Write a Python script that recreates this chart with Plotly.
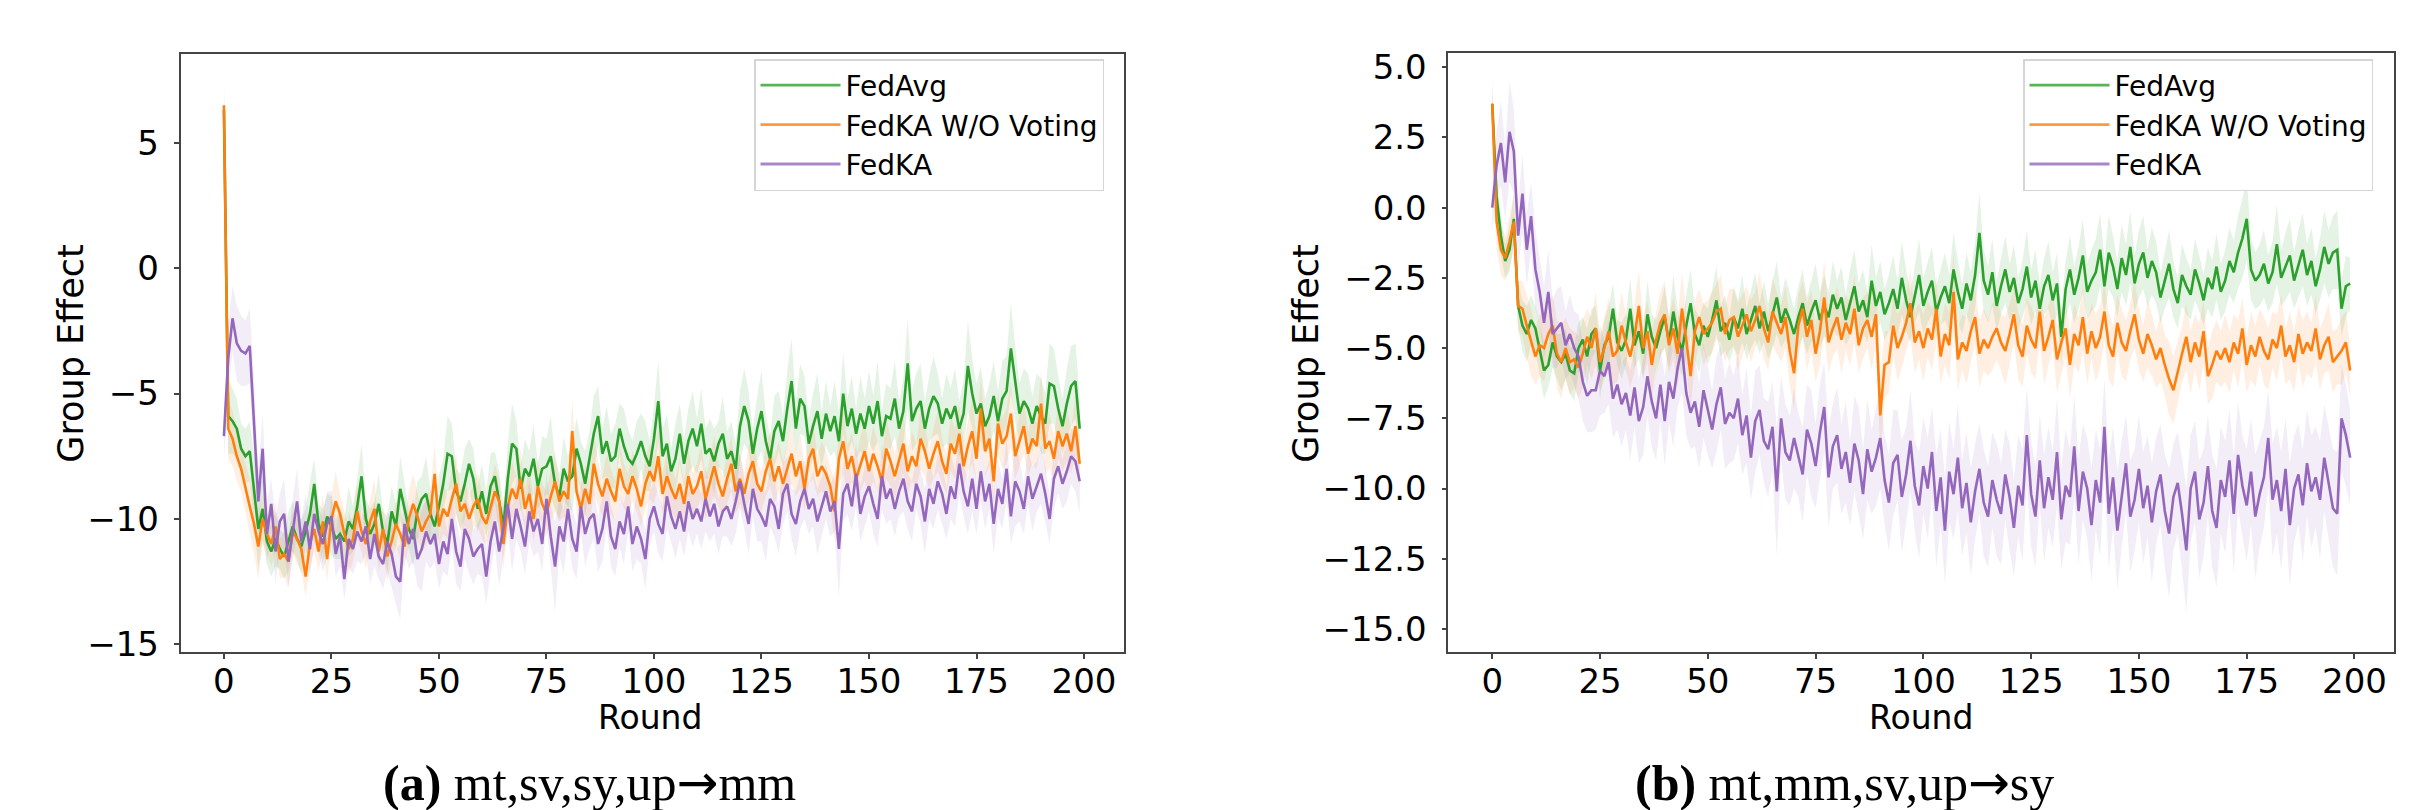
import plotly.graph_objects as go

rounds = list(range(200))
series_names = ["FedAvg", "FedKA W/O Voting", "FedKA"]
series_colors = ["#2ca02c", "#ff7f0e", "#9467bd"]
band_colors = ["rgba(44,160,44,0.12)", "rgba(255,127,14,0.12)", "rgba(148,103,189,0.12)"]
legend_colors = ["rgba(44,160,44,0.8)", "rgba(255,127,14,0.8)", "rgba(148,103,189,0.8)"]

# ---------------- panel (a): mt,sv,sy,up -> mm ----------------
a_fedavg = [
    6.3, -5.9, -6.1, -6.4, -7.2, -7.5, -7.3, -8.9, -10.4, -9.6,
    -10.9, -11.3, -10.8, -11.2, -11.5, -10.9, -10.3, -10.8, -11.1, -10.5,
    -9.8, -8.6, -10.2, -10.7, -9.9, -10.3, -10.8, -10.6, -10.9, -10.1,
    -10.4, -9.5, -8.3, -10.0, -10.6, -10.2, -9.4, -10.5, -11.0, -9.7,
    -10.3, -8.8, -9.6, -10.4, -10.8, -9.7, -9.2, -9.0, -9.8, -10.3,
    -9.5, -8.6, -7.4, -7.5, -8.9, -9.3, -8.6, -7.8, -8.4, -9.6,
    -8.9, -9.8, -8.7, -8.3, -9.3, -10.3, -8.4, -7.0, -7.2, -8.8,
    -8.0, -8.3, -7.6, -8.7, -8.0, -7.9, -7.5, -8.6, -9.1, -8.0,
    -8.5, -8.3, -7.2, -7.8, -8.6, -7.6, -6.6, -5.9, -7.4, -6.9,
    -7.7, -7.5, -6.4, -7.1, -7.6, -7.8, -7.4, -6.9, -7.5, -7.9,
    -6.8, -5.3, -7.5, -7.0, -8.1, -7.6, -6.6, -7.8, -6.9, -6.4,
    -7.1, -6.2, -7.4, -7.2, -7.7, -7.0, -6.6, -7.6, -7.3, -8.0,
    -6.3, -5.5, -6.1, -7.4, -6.4, -5.7, -6.9, -7.6, -6.5, -6.1,
    -6.9, -5.6, -4.5, -6.4, -5.2, -5.5, -7.0, -6.3, -5.7, -6.8,
    -5.8, -6.5, -5.9, -6.9, -5.0, -6.3, -5.6, -6.6, -5.8, -6.4,
    -5.5, -6.2, -5.3, -6.7, -5.9, -6.0, -5.2, -6.4, -5.7, -3.8,
    -6.1, -5.6, -5.3, -6.4, -5.6, -5.1, -5.4, -6.2, -5.6, -6.0,
    -5.5, -6.4, -5.8, -3.9, -5.0, -5.8, -5.4, -6.3, -5.9, -5.1,
    -6.1, -5.2, -4.9, -3.2, -4.6, -5.8, -5.3, -5.6, -6.2, -5.5,
    -5.9, -6.2, -4.6, -4.7, -5.6, -6.3, -5.4, -4.7, -4.5, -6.4,
]
a_fedavg_sd = [
    1.2, 1.5, 1.3, 1.2, 1.0, 1.1, 1.2, 1.4, 1.6, 1.2,
    0.9, 1.0, 1.1, 0.8, 0.9, 1.2, 1.0, 0.8, 1.1, 0.9,
    1.3, 1.0, 0.8, 1.1, 0.9, 1.2, 0.8, 1.0, 0.9, 1.4,
    0.9, 1.1, 1.3, 0.8, 1.0, 0.9, 1.2, 0.8, 1.1, 1.0,
    0.9, 1.3, 1.0, 0.8, 1.1, 1.2, 0.9, 1.5, 1.0, 0.8,
    1.2, 1.0, 1.5, 1.3, 0.9, 1.1, 1.4, 1.0, 1.2, 0.9,
    1.1, 0.9, 1.3, 1.0, 1.2, 0.8, 1.4, 1.6, 1.1, 0.9,
    1.2, 1.0, 1.4, 0.9, 1.3, 1.1, 1.6, 1.0, 0.9, 1.3,
    1.0, 1.4, 1.2, 0.9, 1.3, 1.1, 1.5, 1.2, 1.0, 1.4,
    1.1, 1.3, 1.0, 1.5, 1.2, 0.9, 1.3, 1.1, 1.4, 1.0,
    1.3, 1.6, 1.1, 1.2, 0.9, 1.4, 1.2, 1.0, 1.3, 1.5,
    1.1, 1.4, 1.0, 1.2, 1.3, 0.9, 1.5, 1.1, 1.2, 1.0,
    1.4, 1.5, 1.2, 1.0, 1.3, 1.6, 1.1, 0.9, 1.4, 1.2,
    1.0, 1.5, 1.7, 1.1, 1.4, 1.2, 1.0, 1.3, 1.5, 1.1,
    1.3, 1.0, 1.4, 1.2, 1.6, 1.1, 1.3, 1.0, 1.5, 1.2,
    1.4, 1.1, 1.6, 1.0, 1.3, 1.2, 1.5, 1.1, 1.3, 1.8,
    1.2, 1.4, 1.5, 1.1, 1.3, 1.6, 1.2, 1.0, 1.4, 1.2,
    1.5, 1.1, 1.3, 1.8, 1.4, 1.2, 1.5, 1.1, 1.3, 1.4,
    1.2, 1.5, 1.4, 1.8, 1.5, 1.2, 1.3, 1.4, 1.1, 1.3,
    1.5, 1.2, 1.6, 1.5, 1.3, 1.1, 1.4, 1.6, 1.5, 1.3,
]
a_wov = [
    6.5, -6.4, -6.8, -7.5, -8.0, -8.8, -9.5, -10.2, -11.1, -10.0,
    -10.6, -11.0, -10.3, -11.6, -11.4, -11.7, -10.5, -10.8, -11.2, -12.3,
    -11.0, -10.4, -11.3, -10.1, -11.6, -10.0, -9.3, -9.8, -10.6, -11.2,
    -10.8, -9.7, -10.5, -11.0, -10.1, -9.6, -11.3, -10.4, -11.5, -10.9,
    -10.2, -10.6, -11.1, -10.0, -9.4, -9.9, -10.5, -10.1, -9.8, -8.2,
    -10.3, -9.6, -9.9, -9.2, -8.6, -9.7, -9.4, -10.0, -9.5, -9.2,
    -9.9, -10.2, -9.6, -8.9, -9.3, -11.0, -9.5, -8.8, -9.2, -8.4,
    -9.6, -9.0, -10.0, -8.7, -9.4, -9.8, -9.1, -8.5, -9.3, -8.9,
    -9.2, -6.5, -8.9, -9.6, -8.8, -9.4, -7.8, -8.6, -9.1, -8.4,
    -8.9, -9.3, -8.0, -8.7, -9.0, -8.3, -8.8, -9.5, -8.6, -8.1,
    -8.5, -7.5, -9.0, -8.3, -8.8, -9.2, -8.6, -9.4, -8.3, -9.0,
    -8.7, -8.1, -9.2, -8.5, -7.9, -8.6, -9.1, -8.4, -7.8, -8.9,
    -8.4, -9.0, -8.2, -7.7, -8.6, -8.9, -8.1, -7.6, -8.5, -7.9,
    -8.6, -8.0, -7.4, -8.3, -7.7, -8.8, -7.6, -7.2, -8.3, -7.9,
    -8.2, -8.7, -9.7, -7.6, -6.9, -8.0, -7.5, -8.4, -7.8, -7.3,
    -8.1, -7.4, -7.9, -8.5, -7.2, -7.7, -8.3, -7.6, -7.0, -8.1,
    -7.5, -7.9, -6.8, -7.3, -8.0, -7.4, -6.9, -7.7, -8.2, -7.0,
    -7.4, -6.6, -7.9, -7.1, -6.5, -7.6, -5.6, -7.3, -6.8, -8.5,
    -6.2, -7.0, -6.7, -5.8, -7.5, -6.9, -6.3, -7.4, -6.8, -7.1,
    -5.4, -7.2, -6.9, -7.6, -6.5, -7.1, -6.6, -7.3, -6.3, -7.8,
]
a_wov_sd = [
    1.0, 1.2, 1.1, 1.0, 0.9, 1.0, 1.1, 1.2, 1.3, 1.0,
    0.8, 0.9, 1.0, 0.8, 0.9, 1.1, 0.8, 1.0, 0.9, 0.8,
    1.0, 0.9, 0.8, 1.1, 0.9, 1.0, 1.2, 0.8, 0.9, 1.0,
    0.9, 1.1, 0.8, 1.0, 0.9, 1.2, 0.8, 0.9, 1.0, 0.8,
    0.9, 1.0, 0.8, 1.1, 1.2, 0.9, 0.8, 1.0, 0.9, 1.2,
    0.8, 1.0, 0.9, 1.1, 1.2, 0.8, 0.9, 1.0, 0.8, 1.1,
    0.9, 0.8, 1.0, 1.1, 0.9, 1.0, 0.8, 1.1, 0.9, 1.2,
    0.8, 1.0, 0.9, 1.1, 0.8, 0.9, 1.0, 1.2, 0.8, 1.0,
    0.9, 1.3, 0.8, 0.9, 1.0, 0.8, 1.2, 0.9, 0.8, 1.0,
    0.9, 0.8, 1.1, 0.9, 0.8, 1.0, 0.9, 0.8, 1.0, 1.1,
    0.9, 1.2, 0.8, 1.0, 0.9, 0.8, 1.0, 0.9, 1.1, 0.8,
    0.9, 1.1, 0.8, 1.0, 1.2, 0.9, 0.8, 1.0, 1.1, 0.9,
    1.0, 0.8, 1.1, 1.2, 0.9, 0.8, 1.0, 1.1, 0.9, 1.0,
    0.9, 1.0, 1.2, 0.8, 1.1, 0.9, 1.0, 1.2, 0.8, 1.0,
    0.9, 0.8, 1.2, 1.0, 1.3, 0.9, 1.0, 0.8, 1.1, 1.2,
    0.9, 1.1, 1.0, 0.8, 1.2, 1.0, 0.9, 1.0, 1.2, 0.9,
    1.0, 0.9, 1.2, 1.0, 0.8, 1.0, 1.2, 0.9, 0.8, 1.1,
    1.0, 1.2, 0.9, 1.0, 1.3, 0.9, 1.3, 1.0, 1.1, 0.9,
    1.2, 1.0, 1.1, 1.3, 0.9, 1.0, 1.1, 0.9, 1.0, 0.9,
    1.3, 1.0, 1.1, 0.9, 1.1, 1.0, 1.1, 0.9, 1.2, 1.0,
]
a_fedka = [
    -6.7, -3.6, -2.0, -3.0, -3.3, -3.4, -3.1, -6.0, -9.3, -7.2,
    -10.6, -9.4, -11.3, -10.1, -9.8, -11.7, -10.4, -9.3, -10.9, -10.1,
    -11.2, -9.8, -10.5, -11.0, -10.2, -9.9, -11.4, -10.7, -12.4, -10.8,
    -11.2, -10.5, -10.9, -10.3, -11.6, -10.6, -11.5, -11.8, -10.9, -11.4,
    -12.3, -12.5, -10.2, -11.0, -10.4, -11.6, -11.2, -10.5, -11.0, -10.6,
    -11.8, -10.9, -11.4, -10.0, -11.3, -11.9, -10.4, -10.8, -11.5, -11.2,
    -11.0, -12.3, -10.9, -10.1, -11.3, -10.4, -9.4, -10.8, -9.6, -10.3,
    -11.1, -9.7, -10.5, -10.0, -11.0, -9.2, -10.7, -11.9, -10.3, -10.9,
    -9.6, -10.8, -11.3, -9.5, -10.6, -10.0, -9.8, -11.0, -10.4, -9.3,
    -10.7, -11.2, -10.1, -10.6, -9.5, -11.0, -10.3, -10.8, -11.6, -10.0,
    -9.5, -10.2, -10.6, -9.1, -9.9, -10.4, -9.7, -10.5, -9.3, -10.0,
    -9.6, -10.1, -9.2, -9.9, -9.4, -10.3, -9.7, -9.5, -10.0, -9.3,
    -8.5, -9.4, -10.2, -8.8, -9.6, -9.9, -10.3, -9.2, -9.5, -10.4,
    -9.0, -8.6, -9.8, -10.2, -9.3, -8.8, -9.6, -9.2, -10.1, -9.5,
    -8.9, -9.7, -9.3, -11.2, -9.0, -8.6, -9.5, -8.2, -9.8, -9.1,
    -8.7, -9.4, -10.0, -8.3, -9.2, -8.8, -9.6, -8.9, -8.4, -9.3,
    -9.7, -8.6, -9.1, -10.1, -8.8, -9.4, -8.5, -9.0, -9.8, -8.7,
    -9.2, -7.8, -8.9, -9.5, -8.4, -9.6, -8.1, -9.3, -8.6, -10.2,
    -8.8, -9.4, -8.0, -9.9, -8.5, -8.9, -9.6, -8.3, -9.2, -8.7,
    -8.2, -9.0, -10.0, -8.4, -7.9, -8.6, -8.1, -7.5, -7.7, -8.5,
]
a_fedka_sd = [
    0.9, 1.4, 1.3, 1.5, 1.4, 1.3, 1.5, 1.6, 1.3, 1.4,
    1.2, 1.0, 1.3, 1.1, 1.4, 1.0, 1.2, 1.3, 0.9, 1.1,
    1.0, 1.2, 0.9, 1.1, 1.3, 1.0, 0.9, 1.2, 0.8, 1.1,
    1.0, 1.2, 0.9, 1.1, 1.0, 1.3, 0.9, 1.0, 1.2, 1.4,
    1.1, 1.5, 1.2, 1.0, 1.3, 1.1, 1.7, 1.2, 1.0, 1.1,
    1.0, 1.2, 0.9, 1.1, 1.3, 1.0, 1.2, 1.4, 1.1, 1.0,
    1.3, 1.1, 1.2, 1.0, 1.4, 1.1, 1.0, 1.3, 1.2, 1.0,
    1.1, 1.2, 1.0, 1.3, 1.1, 1.0, 1.2, 1.8, 1.1, 1.3,
    1.0, 1.2, 1.1, 1.0, 1.3, 1.2, 1.0, 1.1, 1.3, 1.0,
    1.2, 1.1, 1.0, 1.2, 1.0, 1.1, 1.3, 1.0, 1.2, 1.1,
    1.0, 1.2, 1.1, 1.3, 1.0, 1.2, 1.1, 1.0, 1.2, 1.1,
    1.0, 1.1, 1.3, 1.0, 1.2, 1.1, 1.0, 1.2, 1.1, 1.3,
    1.1, 1.0, 1.2, 1.1, 1.3, 1.0, 1.4, 1.1, 1.2, 1.0,
    1.2, 1.1, 1.0, 1.3, 1.1, 1.2, 1.0, 1.1, 1.3, 1.2,
    1.1, 1.0, 1.2, 1.9, 1.1, 1.2, 1.0, 1.3, 1.1, 1.2,
    1.0, 1.2, 1.1, 1.3, 1.0, 1.2, 1.1, 1.0, 1.3, 1.1,
    1.2, 1.0, 1.1, 1.3, 1.2, 1.0, 1.1, 1.2, 1.0, 1.3,
    1.1, 1.2, 1.0, 1.1, 1.3, 1.0, 1.2, 1.1, 1.0, 1.2,
    1.1, 1.0, 1.3, 1.1, 1.8, 1.2, 1.0, 1.1, 1.3, 1.0,
    1.2, 1.1, 1.0, 1.2, 1.1, 1.0, 1.2, 1.1, 1.2, 1.3,
]

# ---------------- panel (b): mt,mm,sv,up -> sy ----------------
b_fedavg = [
    3.7, 0.4, -1.0, -1.9, -1.5, -0.4, -3.5, -4.2, -4.5, -4.0,
    -4.3, -5.0, -5.8, -5.6, -4.8, -5.3, -5.5, -5.2, -5.8, -5.9,
    -5.0, -4.7, -5.3, -4.5, -4.3, -5.8, -4.9, -4.6, -3.6, -4.8,
    -5.1, -4.7, -3.6, -4.9, -4.4, -5.2, -3.8, -4.6, -5.0, -4.4,
    -3.9, -4.8, -3.7, -4.6, -5.1, -4.2, -3.4, -4.5, -4.9, -4.2,
    -4.6, -4.0, -3.3, -4.4, -4.1, -4.7, -3.9, -4.3, -3.6, -4.5,
    -4.0, -3.5, -4.3, -3.7, -4.4, -3.8, -3.2, -4.1, -3.6, -4.0,
    -4.5, -3.9, -3.4, -4.2, -3.7, -3.3, -4.0, -3.5, -3.9, -3.1,
    -3.6, -3.2, -4.0, -3.4, -2.8, -3.7, -3.3, -3.9, -2.6, -3.5,
    -3.0, -3.8, -3.4, -2.9, -3.6, -2.5, -3.3, -3.9, -3.1, -2.4,
    -3.5, -3.0, -2.6, -3.7, -3.2, -2.8, -3.4, -2.2, -3.0, -3.6,
    -2.7, -3.3, -2.4, -0.9, -2.6, -3.1, -2.3, -3.5, -2.8, -2.2,
    -3.0, -2.5, -3.4, -2.9, -2.1, -3.2, -2.6, -3.6, -2.8, -2.4,
    -3.3, -2.7, -4.6, -2.9, -2.2, -3.1, -2.5, -1.7, -3.0, -2.6,
    -2.3, -1.5, -2.8, -1.6, -2.1, -2.9, -1.8, -2.4, -1.4, -2.7,
    -2.0, -1.6, -2.5, -1.9, -2.3, -3.2, -2.6, -2.0, -2.9, -3.4,
    -2.4, -2.8, -3.1, -2.2, -2.7, -3.3, -2.5, -2.9, -2.1, -3.0,
    -2.6, -1.9, -2.3, -1.6, -1.1, -0.4, -2.2, -2.6, -2.4, -2.0,
    -2.7, -2.3, -1.3, -2.5, -2.1, -1.7, -2.6, -2.0, -1.5, -2.4,
    -1.9, -2.8, -2.2, -1.4, -2.0, -1.6, -1.5, -3.6, -2.8, -2.7,
]
b_fedavg_sd = [
    0.6, 0.8, 0.7, 0.6, 0.8, 0.9, 0.8, 0.9, 1.0, 0.9,
    0.8, 0.9, 1.0, 0.8, 0.9, 0.8, 1.0, 0.9, 0.8, 1.0,
    0.9, 0.8, 1.0, 0.9, 0.8, 1.0, 0.9, 1.1, 0.9, 0.8,
    1.0, 0.9, 1.1, 0.8, 1.0, 0.9, 1.2, 0.8, 1.0, 0.9,
    1.1, 0.9, 1.3, 1.0, 0.9, 1.1, 1.2, 0.9, 1.0, 0.8,
    1.0, 1.1, 1.2, 0.9, 1.0, 0.8, 1.1, 1.0, 1.2, 0.9,
    1.0, 1.2, 0.9, 1.1, 1.0, 1.2, 1.3, 0.9, 1.1, 1.0,
    0.9, 1.1, 1.2, 1.0, 1.1, 1.3, 1.0, 1.1, 0.9, 1.2,
    1.0, 1.1, 0.9, 1.2, 1.3, 1.0, 1.1, 0.9, 1.3, 1.0,
    1.1, 0.9, 1.0, 1.2, 1.0, 1.3, 1.1, 0.9, 1.0, 1.3,
    1.0, 1.1, 1.2, 0.9, 1.0, 1.2, 1.0, 1.3, 1.1, 0.9,
    1.1, 1.0, 1.2, 1.4, 1.1, 1.0, 1.2, 0.9, 1.0, 1.2,
    1.0, 1.2, 0.9, 1.0, 1.3, 1.0, 1.1, 0.9, 1.0, 1.2,
    1.0, 1.1, 1.0, 1.0, 1.2, 1.0, 1.1, 1.3, 1.0, 1.1,
    1.2, 1.3, 1.0, 1.3, 1.1, 1.0, 1.2, 1.1, 1.3, 1.0,
    1.2, 1.3, 1.0, 1.2, 1.1, 0.9, 1.0, 1.2, 1.0, 0.9,
    1.1, 1.0, 0.9, 1.1, 1.0, 0.9, 1.1, 1.0, 1.2, 1.0,
    1.1, 1.2, 1.1, 1.3, 1.4, 1.5, 1.1, 1.0, 1.1, 1.2,
    1.0, 1.1, 1.4, 1.0, 1.2, 1.3, 1.0, 1.2, 1.3, 1.1,
    1.2, 1.0, 1.1, 1.3, 1.2, 1.3, 1.4, 1.0, 1.1, 0.9,
]
b_wov = [
    3.7, -0.5, -1.5, -1.8, -1.2, -0.5, -3.5, -3.6, -4.2, -4.8,
    -5.3, -4.9, -5.0, -4.5, -4.2, -5.2, -5.5, -5.0, -5.5, -5.4,
    -5.7, -5.2, -4.6, -5.0, -4.3, -5.5, -5.0, -4.4, -5.3, -5.1,
    -4.2, -4.8, -5.3, -4.6, -3.5, -5.0, -4.4, -5.6, -4.7, -4.1,
    -3.8, -4.9, -4.3, -5.2, -3.6, -4.7, -6.0, -4.4, -3.9, -4.5,
    -4.3, -4.1, -3.7, -3.6, -4.5, -4.0, -3.9, -4.6, -4.2, -3.8,
    -4.4, -4.0, -3.5, -4.3, -4.8, -3.7, -4.1, -4.5, -3.9, -5.1,
    -5.9, -4.2, -3.6, -4.6, -4.0, -5.2, -4.4, -3.2, -4.8, -4.3,
    -3.9, -4.7, -4.1, -4.5, -3.6, -4.9, -4.3, -4.0, -4.6, -3.8,
    -7.4, -5.6, -5.5, -4.2, -5.0, -4.6, -4.1, -3.4, -4.8, -4.4,
    -5.0, -4.3, -4.7, -3.6, -5.3, -4.5, -4.9, -3.0, -5.4, -4.8,
    -5.1, -4.4, -3.9, -5.2, -4.7, -5.0, -4.6, -4.3, -4.8, -5.1,
    -4.5, -3.8, -4.9, -5.3, -4.2, -4.7, -5.0, -3.7, -5.1, -4.6,
    -4.0, -5.4, -4.8, -4.3, -5.6, -4.5, -4.9, -3.9, -5.2, -4.4,
    -5.0, -4.6, -3.7, -4.9, -5.3, -4.1, -4.8, -5.1, -4.4, -3.8,
    -4.7, -5.2, -4.5, -4.9, -5.4, -5.0, -5.6, -6.1, -6.5, -5.8,
    -5.2, -4.6, -5.5, -4.8, -5.3, -4.4, -6.0, -5.6, -5.1, -5.4,
    -5.0, -5.5, -4.8, -5.2, -4.3, -5.6, -4.9, -5.3, -4.6, -5.1,
    -5.4, -4.7, -5.0, -4.2, -5.3, -4.9, -5.5, -4.5, -5.2, -4.8,
    -5.1, -4.3, -5.4, -4.9, -4.6, -5.5, -5.3, -5.1, -4.8, -5.8,
]
b_wov_sd = [
    0.9, 1.0, 0.9, 0.8, 0.9, 1.0, 0.9, 1.0, 1.1, 1.2,
    1.0, 1.1, 1.2, 1.0, 1.1, 1.2, 1.3, 1.1, 1.2, 1.0,
    1.1, 1.2, 1.0, 1.1, 1.3, 1.0, 1.1, 1.2, 1.0, 1.1,
    1.2, 1.0, 1.1, 1.2, 1.3, 1.0, 1.1, 1.2, 1.0, 1.1,
    1.2, 1.0, 1.1, 1.2, 1.3, 1.0, 1.2, 1.1, 1.0, 1.1,
    1.0, 1.1, 1.0, 1.2, 1.0, 1.1, 1.0, 1.2, 1.1, 1.0,
    1.1, 1.0, 1.2, 1.1, 1.0, 1.2, 1.1, 1.0, 1.1, 1.2,
    1.3, 1.1, 1.0, 1.2, 1.1, 1.0, 1.2, 1.3, 1.1, 1.0,
    1.1, 1.2, 1.0, 1.1, 1.2, 1.0, 1.1, 1.0, 1.2, 1.1,
    1.4, 1.2, 1.1, 1.0, 1.2, 1.1, 1.0, 1.2, 1.1, 1.0,
    1.2, 1.0, 1.1, 1.2, 1.0, 1.1, 1.2, 1.4, 1.1, 1.0,
    1.2, 1.1, 1.0, 1.2, 1.1, 1.0, 1.2, 1.1, 1.0, 1.2,
    1.1, 1.0, 1.2, 1.1, 1.0, 1.2, 1.1, 1.0, 1.2, 1.1,
    1.0, 1.2, 1.1, 1.0, 1.2, 1.1, 1.0, 1.2, 1.1, 1.0,
    1.2, 1.1, 1.0, 1.2, 1.1, 1.0, 1.2, 1.1, 1.0, 1.2,
    1.1, 1.0, 1.2, 1.1, 1.0, 1.2, 1.1, 1.3, 1.2, 1.1,
    1.0, 1.2, 1.1, 1.0, 1.2, 1.1, 1.0, 1.2, 1.1, 1.0,
    1.2, 1.1, 1.0, 1.2, 1.1, 1.0, 1.2, 1.1, 1.0, 1.2,
    1.1, 1.0, 1.2, 1.1, 1.0, 1.2, 1.1, 1.0, 1.2, 1.1,
    1.0, 1.2, 1.1, 1.0, 1.2, 1.1, 1.0, 1.2, 1.1, 0.9,
]
b_fedka = [
    0.0, 1.5, 2.3, 0.9, 2.7, 2.0, -1.0, 0.5, -1.5, -0.3,
    -2.2, -3.0, -4.1, -3.0, -4.5, -4.3, -4.1, -4.9, -4.5, -5.0,
    -5.3, -6.2, -6.7, -6.5, -6.5, -5.8, -6.0, -5.5, -6.8, -6.3,
    -7.0, -6.6, -7.4, -6.4, -7.6, -7.1, -6.0, -6.9, -7.5, -6.3,
    -7.6, -6.2, -6.8, -5.7, -5.0, -6.6, -7.3, -6.9, -7.8, -6.5,
    -7.2, -7.9, -7.0, -6.4, -7.7, -7.3, -7.5, -6.8, -8.1, -7.4,
    -8.9, -7.6, -7.2, -8.3, -8.6, -7.8, -10.1, -7.5, -8.7, -9.0,
    -8.2, -8.8, -9.5, -7.9, -8.4, -9.2, -8.0, -7.1, -9.6, -8.5,
    -8.1, -9.3, -8.7, -9.8, -8.4, -9.0, -10.2, -8.6, -9.4, -8.9,
    -8.2, -9.7, -10.5, -9.1, -8.8, -10.3, -9.5, -8.3, -9.9, -10.6,
    -9.2, -10.0, -8.7, -10.8, -9.6, -11.5, -9.4, -10.2, -8.9, -10.7,
    -9.8, -11.2, -10.1, -9.3, -10.5, -11.0, -9.7, -10.4, -10.9, -9.5,
    -10.3, -11.4, -9.9, -10.6, -8.1, -10.2, -11.0, -9.0, -10.7, -9.6,
    -10.4, -8.7, -11.1, -9.9, -10.3, -8.5, -10.8, -9.4, -10.0, -11.3,
    -9.7, -10.5, -7.8, -10.9, -9.6, -11.5, -10.2, -9.1, -11.0, -10.4,
    -9.3, -10.7, -9.9, -11.2, -10.1, -9.5, -10.8, -11.6, -10.3, -9.8,
    -10.9, -12.2, -10.0, -9.4, -11.1, -10.5, -9.2, -10.8, -11.4, -9.7,
    -10.3, -9.0, -10.9, -8.8, -9.9, -10.6, -9.4, -11.0, -10.2, -9.6,
    -8.2, -10.4, -9.7, -10.8, -9.3, -11.3, -10.0, -9.5, -10.6, -9.1,
    -10.1, -9.6, -10.4, -8.9, -9.8, -10.7, -10.9, -7.5, -8.1, -8.9,
]
b_fedka_sd = [
    0.8, 1.2, 1.5, 1.3, 1.8, 1.5, 1.2, 1.4, 1.3, 1.2,
    1.4, 1.2, 1.3, 1.5, 1.2, 1.4, 1.3, 1.2, 1.4, 1.3,
    1.5, 1.4, 1.3, 1.5, 1.4, 1.6, 1.3, 1.5, 1.4, 1.6,
    1.5, 1.3, 1.6, 1.4, 1.5, 1.7, 1.4, 1.6, 1.5, 1.3,
    1.6, 1.5, 1.7, 1.4, 1.6, 1.5, 1.3, 1.6, 1.5, 1.7,
    1.6, 1.4, 1.7, 1.5, 1.6, 1.8, 1.5, 1.6, 1.4, 1.7,
    1.5, 1.8, 1.6, 1.5, 1.7, 1.6, 2.3, 1.5, 1.7, 1.6,
    1.8, 1.5, 1.7, 1.6, 1.9, 1.5, 1.7, 1.6, 1.8, 1.5,
    1.7, 1.6, 1.8, 1.5, 1.7, 1.9, 1.6, 1.8, 1.5, 1.7,
    1.8, 1.6, 1.7, 1.9, 1.6, 2.0, 1.7, 1.8, 1.6, 1.9,
    1.7, 1.8, 1.6, 2.0, 1.7, 1.9, 1.8, 1.6, 1.9, 1.7,
    1.8, 1.9, 1.7, 1.6, 1.9, 1.8, 1.7, 2.0, 1.8, 1.6,
    1.9, 1.7, 1.8, 2.0, 1.7, 1.9, 1.8, 1.6, 1.9, 1.8,
    1.7, 1.9, 1.8, 2.0, 1.7, 1.8, 1.9, 1.7, 1.8, 2.0,
    1.8, 1.9, 1.7, 2.0, 1.8, 2.1, 1.9, 1.7, 2.0, 1.8,
    1.9, 2.0, 1.8, 2.1, 1.9, 1.8, 2.0, 2.3, 1.9, 1.8,
    2.0, 2.2, 1.9, 1.8, 2.1, 1.9, 1.8, 2.0, 2.1, 1.9,
    2.0, 1.8, 2.1, 1.9, 1.8, 2.0, 1.9, 2.2, 1.9, 1.8,
    1.7, 2.0, 1.9, 2.1, 1.8, 2.2, 1.9, 1.8, 2.0, 1.9,
    2.0, 1.8, 2.1, 1.9, 2.0, 2.1, 2.2, 1.9, 1.8, 1.7,
]

# panel-level text
panel_captions = [
    "<b>(a)</b> mt,sv,sy,up<span style=\"font-family:'DejaVu Sans'\">\u2192</span>mm",
    "<b>(b)</b> mt,mm,sv,up<span style=\"font-family:'DejaVu Sans'\">\u2192</span>sy",
]
x_title = "Round"
y_title = "Group Effect"
x_ticks = [0, 25, 50, 75, 100, 125, 150, 175, 200]
a_y_ticks = [-15, -10, -5, 0, 5]
b_y_ticks = [-15.0, -12.5, -10.0, -7.5, -5.0, -2.5, 0.0, 2.5, 5.0]

panels = [
    dict(means=[a_fedavg, a_wov, a_fedka], sds=[a_fedavg_sd, a_wov_sd, a_fedka_sd],
         xa="x", ya="y", legend="legend"),
    dict(means=[b_fedavg, b_wov, b_fedka], sds=[b_fedavg_sd, b_wov_sd, b_fedka_sd],
         xa="x2", ya="y2", legend="legend2"),
]

for p in panels:
    for arr in p["means"] + p["sds"]:
        if len(arr) != len(rounds):
            raise ValueError(f"length mismatch {len(arr)}")

W, H = 2422, 810
fig = go.Figure()

for p in panels:
    for i in range(3):
        m, s = p["means"][i], p["sds"][i]
        upper = [a + b for a, b in zip(m, s)]
        lower = [a - b for a, b in zip(m, s)]
        fig.add_trace(go.Scatter(x=rounds, y=upper, mode="lines", line=dict(width=0),
                                 showlegend=False, hoverinfo="skip", xaxis=p["xa"], yaxis=p["ya"]))
        fig.add_trace(go.Scatter(x=rounds, y=lower, mode="lines", line=dict(width=0),
                                 fill="tonexty", fillcolor=band_colors[i],
                                 showlegend=False, hoverinfo="skip", xaxis=p["xa"], yaxis=p["ya"]))
    for i in range(3):
        fig.add_trace(go.Scatter(x=rounds, y=p["means"][i], mode="lines",
                                 line=dict(color=series_colors[i], width=2.6),
                                 name=series_names[i], showlegend=False,
                                 xaxis=p["xa"], yaxis=p["ya"]))
    # legend entries
    for i in range(3):
        fig.add_trace(go.Scatter(x=[None], y=[None], mode="lines",
                                 line=dict(color=legend_colors[i], width=2.8),
                                 name=series_names[i], legend=p["legend"],
                                 xaxis=p["xa"], yaxis=p["ya"]))

def px_x(v):
    return v / W

def px_y(v):
    return 1 - v / H

axis_common = dict(showline=True, mirror=True, linecolor="#444444", linewidth=1.5,
                   ticks="outside", ticklen=5, tickwidth=1.5, tickcolor="#444444",
                   showgrid=False, zeroline=False,
                   tickfont=dict(family="DejaVu Sans", size=34, color="black"))

legend_common = dict(yanchor="top", xanchor="right", traceorder="normal",
                     bgcolor="rgba(255,255,255,0.85)", bordercolor="#d5d5d5", borderwidth=1.5,
                     font=dict(family="DejaVu Sans", size=28, color="black"),
                     tracegroupgap=0, itemwidth=80)

fig.update_layout(
    width=W, height=H, autosize=False,
    margin=dict(l=0, r=0, t=0, b=0),
    paper_bgcolor="white", plot_bgcolor="white",
    font=dict(family="DejaVu Sans", color="black"),
    xaxis=dict(domain=[px_x(172.5), px_x(1116)], range=[-10.1, 209.3], tickvals=x_ticks,
               anchor="y", ticklabelstandoff=-7, **axis_common),
    yaxis=dict(domain=[px_y(653), px_y(41.7)], range=[-15.32, 8.55], tickvals=a_y_ticks,
               anchor="x", ticklabelstandoff=8, **axis_common),
    xaxis2=dict(domain=[px_x(1440.3), px_x(2385.7)], range=[-10.2, 209.1], tickvals=x_ticks,
                anchor="y2", ticklabelstandoff=-7, **axis_common),
    yaxis2=dict(domain=[px_y(653), px_y(40.7)], range=[-15.83, 5.51], tickvals=b_y_ticks,
                tickformat=".1f", anchor="x2", ticklabelstandoff=8, **axis_common),
    legend=dict(x=px_x(1096), y=px_y(47), **legend_common),
    legend2=dict(x=px_x(2365), y=px_y(47), **legend_common),
)

annotations = []
# axis titles
for cx, ycx in [(642, 63), (1913, 1298)]:
    annotations.append(dict(text=x_title, x=px_x(cx), y=px_y(720), xref="paper", yref="paper",
                            showarrow=False, xanchor="center", yanchor="middle",
                            font=dict(family="DejaVu Sans", size=33, color="black")))
    annotations.append(dict(text=y_title, x=px_x(ycx), y=px_y(348), xref="paper", yref="paper",
                            showarrow=False, xanchor="center", yanchor="middle", textangle=-90,
                            font=dict(family="DejaVu Sans", size=35, color="black")))
# captions
for cap, cx in zip(panel_captions, [581, 1836]):
    annotations.append(dict(text=cap, x=px_x(cx), y=px_y(787), xref="paper", yref="paper",
                            showarrow=False, xanchor="center", yanchor="middle",
                            font=dict(family="Liberation Serif", size=50, color="black")))
fig.update_layout(annotations=annotations)

fig.write_html("out.html")
